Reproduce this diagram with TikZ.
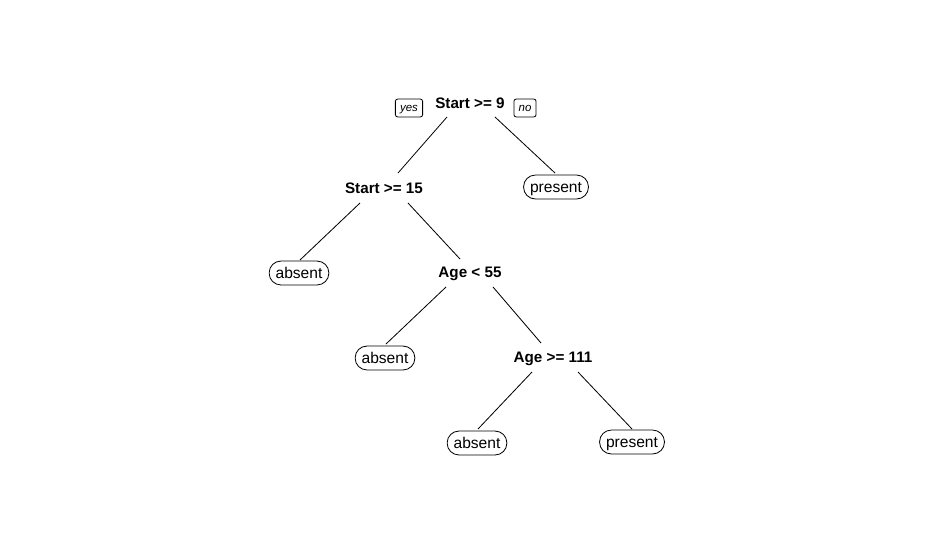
\documentclass[tikz,border=0pt]{standalone}
\usepackage{fontspec}
\setmainfont{Liberation Sans}
\usetikzlibrary{calc}
\tikzset{
  split/.style={font=\fontsize{13}{15}\selectfont\bfseries, inner sep=0pt, text height=9.3pt, text depth=0pt},
  leaf/.style={draw, rounded corners=10pt, font=\fontsize{13.3}{15}\selectfont, minimum height=20.4pt, inner xsep=5.5pt, inner ysep=0pt, text height=9.6pt, text depth=0.5pt},
  side/.style={draw, rounded corners=2pt, font=\fontsize{9.8}{11}\selectfont\itshape, minimum height=15.3pt, inner xsep=4pt, inner ysep=0pt, text height=7pt, text depth=0.3pt}
}
\begin{document}
\begin{tikzpicture}[x=0.03cm, y=-0.03cm, line width=0.7pt]
      \useasboundingbox (0,0) rectangle (932,546);

      % Regras de divisao
      \node[split] (s9) at (470,103) {Start >= 9};
      \node[split] (s15) at (384,188) {Start >= 15};
      \node[split] (g55) at (470,272) {Age < 55};
      \node[split] (g111) at (553,357) {Age >= 111};

      % Rotulos yes / no
      \node[side] (yes) at (409,108) {yes};
      \node[side] (no) at (525,108) {no};

      % Folhas
      \node[leaf] (p1) at (556,187) {present};
      \node[leaf] (a1) at (299,273) {absent};
      \node[leaf] (a2) at (385,358) {absent};
      \node[leaf] (a3) at (477,443) {absent};
      \node[leaf] (p2) at (632,442) {present};

      % Ramos
      \draw ($(s9)+(-23,14)$) -- ($(s15)+(14,-15)$);
      \draw ($(s9)+(25,14)$) -- ($(p1)+(-1,-14)$);
      \draw ($(s15)+(-24,15)$) -- ($(a1)+(1,-13)$);
      \draw ($(s15)+(24,15)$) -- ($(g55)+(-10,-13)$);
      \draw ($(g55)+(-24,15)$) -- ($(a2)+(1,-14)$);
      \draw ($(g55)+(23,15)$) -- ($(g111)+(-12,-14)$);
      \draw ($(g111)+(-21,15)$) -- ($(a3)+(1,-14)$);
      \draw ($(g111)+(25,15)$) -- ($(p2)+(0,-13)$);
    \end{tikzpicture}
\end{document}
